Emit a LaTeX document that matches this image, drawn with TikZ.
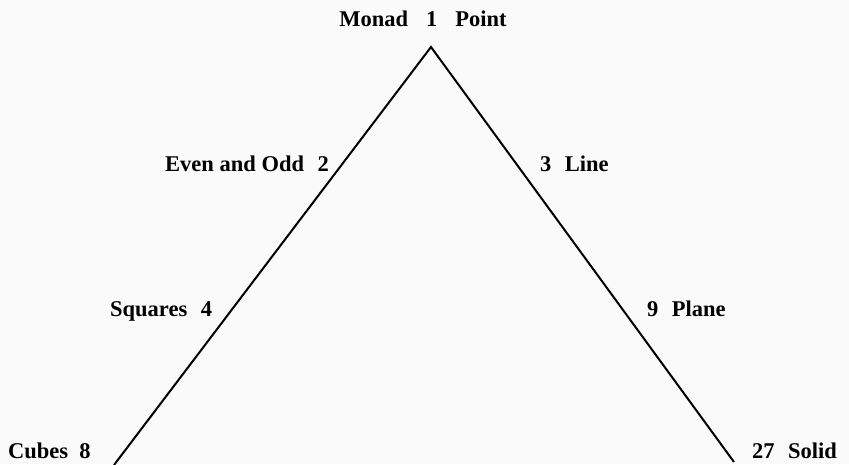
\documentclass[tikz,border=0pt]{standalone}
\usepackage{fontspec}
\setmainfont{Liberation Serif}
\begin{document}
\begin{tikzpicture}[x=1pt,y=-1pt,
  lbl/.style={font=\fontsize{22.5}{26}\selectfont\bfseries, inner sep=0pt},
  edge/.style={line width=2pt, black}]
\fill[black!2] (0,0) rectangle (849,464);
\useasboundingbox (0,0) rectangle (849,464);
\coordinate (apex) at (431,47);
\coordinate (bl) at (114,465);
\coordinate (br) at (734,462);
\draw[edge] (bl) -- (apex) -- (br);
\node[lbl, anchor=base] (monad) at (423,26) {Monad\hspace{0.8em}1\hspace{0.8em}Point};
\node[lbl, anchor=base east] (even) at (329,171) {Even and Odd\hspace{0.6em}2};
\node[lbl, anchor=base west] (line) at (540,171) {3\hspace{0.6em}Line};
\node[lbl, anchor=base west] (sq) at (110,316) {Squares\hspace{0.6em}4};
\node[lbl, anchor=base west] (plane) at (647,316) {9\hspace{0.6em}Plane};
\node[lbl, anchor=base west] (cubes) at (8,458) {Cubes\hspace{0.5em}8};
\node[lbl, anchor=base west] (solid) at (752,458) {27\hspace{0.6em}Solid};
\end{tikzpicture}
\end{document}
